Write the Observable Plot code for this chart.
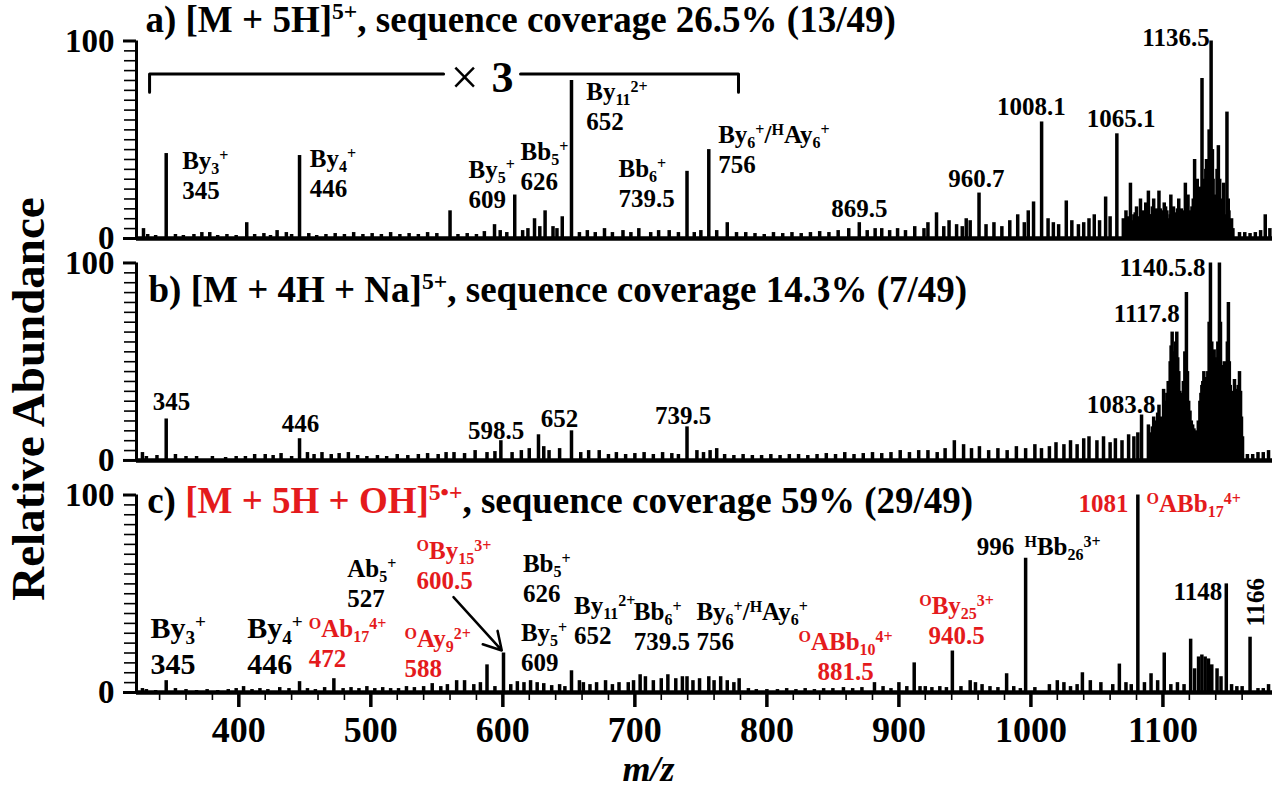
<!DOCTYPE html>
<html>
<head>
<meta charset="utf-8">
<script src="https://cdn.jsdelivr.net/npm/d3@7"></script>
<script src="https://cdn.jsdelivr.net/npm/@observablehq/plot@0.6"></script>
<style>
  html, body { margin: 0; padding: 0; background: #fff; }
  #chart { width: 1277px; height: 787px; }
</style>
</head>
<body>
<div id="chart"></div>
<script>
// Tandem mass spectra of three precursor ions, stacked on a shared m/z axis.

const RED = "#e41a1c";
const FONT = "'Liberation Serif', 'Times New Roman', Times, serif";

// ---- axes -------------------------------------------------------------
const mzDomain = [322.5, 1183];
const mzMajorTicks = [400, 500, 600, 700, 800, 900, 1000, 1100];
const mzMinorTicks = [340, 360, 380, 420, 440, 460, 480, 520, 540, 560, 580, 620, 640, 660, 680,
  720, 740, 760, 780, 820, 840, 860, 880, 920, 940, 960, 980, 1020, 1040, 1060, 1080, 1120, 1140, 1160];
const abundanceMajorTicks = [0, 100];
const abundanceMinorTicks = [5, 10, 15, 20, 25, 30, 35, 40, 45, 50, 55, 60, 65, 70, 75, 80, 85, 90, 95];

// ---- spectrum a) [M + 5H]5+ : [m/z, relative abundance] ----------------
const peaksA = [[327.8, 5], [345, 43], [372, 3], [406, 8], [429, 4], [446, 42], [560, 14], [593.7, 7],
  [609, 22], [624, 10], [632, 14], [645, 11], [652, 80], [677, 5], [739.5, 34], [756, 45], [770, 8],
  [870, 8], [887, 5], [928.5, 13], [943.7, 7], [954, 9], [960.7, 23], [1002, 18.5], [1008.1, 59],
  [1026.8, 19], [1056.6, 21], [1065.1, 53], [1075.4, 28], [1083, 20], [1089, 24], [1097, 24],
  [1106, 22], [1117, 28], [1124, 40], [1129.6, 81], [1136.5, 100], [1142, 47], [1148.5, 64], [1177.5, 12]];
const clusterA = [[1070, 10], [1071, 8], [1072, 14], [1073, 11], [1074, 9], [1076, 9], [1078, 12],
  [1079, 13], [1080, 16], [1081, 11], [1082, 10], [1084, 12], [1085, 14], [1086, 13], [1087, 18],
  [1088, 15], [1090, 12], [1091, 12], [1092, 16], [1093, 20], [1094, 14], [1095, 15], [1096, 12],
  [1098, 15], [1099, 12], [1100, 14], [1101, 18], [1102, 16], [1103, 14], [1104.5, 10], [1105.5, 12],
  [1107, 14], [1108, 16], [1109, 13], [1110, 12], [1111, 15], [1112, 20], [1113, 14], [1114, 15],
  [1115.5, 11], [1116.5, 14], [1118, 18], [1119, 22], [1120.5, 14], [1122, 16], [1123, 20], [1125, 24],
  [1126, 30], [1127.5, 20], [1128.5, 26], [1130.5, 30], [1131, 22], [1132.5, 35], [1133, 40], [1134, 28],
  [1135, 55], [1137.5, 45], [1138, 30], [1139.5, 22], [1140.8, 18], [1141, 35], [1143, 30], [1144, 20],
  [1145.5, 16], [1146, 28], [1147, 12], [1149.5, 20], [1150, 14], [1151.5, 8], [1152, 10], [1153, 5]];
const noiseA = [[331, 2], [337, 1.5], [352, 2], [358, 1.5], [366, 2], [378, 3], [384, 1.5], [391, 2],
  [398, 1.5], [412, 2], [419, 2.5], [424, 1.5], [436, 3], [440, 2], [453, 2.5], [459, 1.5], [466, 2],
  [473, 2.5], [480, 2], [487, 3], [494, 2], [501, 2.5], [508, 2], [515, 3], [522, 2], [529, 2.5], [536, 2],
  [543, 3], [550, 2.5], [566, 2], [573, 2.5], [580, 2], [586, 3.5], [598, 4], [603, 3], [615, 4], [619, 5],
  [628, 6], [638, 6], [641, 5], [658, 3], [664, 4], [670, 3], [683, 3], [691, 4], [697, 3], [703, 5],
  [712, 3], [718, 4], [726, 4], [733, 3], [745, 3], [750, 4], [762, 4], [777, 3], [784, 3], [791, 2.5],
  [798, 2], [805, 3], [812, 2.5], [819, 3], [826, 2.5], [833, 3], [840, 3.5], [847, 3], [854, 4], [862, 5],
  [876, 4], [882, 5], [893, 4], [899, 5], [905, 4], [912, 6], [919, 5], [922, 8], [934, 6], [938, 9],
  [948, 6], [951, 10], [966, 7], [972, 8], [978, 6], [984, 9], [990, 12], [995, 8], [998, 14], [1013, 10],
  [1017, 8], [1021, 7], [1031, 9], [1036, 7], [1040, 8], [1044, 10], [1048, 12], [1052, 9], [1060, 11],
  [1158, 3], [1162, 3], [1166, 2.5], [1170, 3], [1174, 4], [1181, 5]];

// ---- spectrum b) [M + 4H + Na]5+ ---------------------------------------
const peaksB = [[327, 4], [345, 21], [446, 11], [598.5, 10], [627, 13], [635, 5], [652, 15], [673, 5],
  [739.5, 17], [762, 6], [942, 10], [961, 7], [1044, 12], [1069, 10], [1083.8, 23]];
const clusterB = [[1089, 18], [1090, 12], [1091, 14], [1092, 17], [1093, 22], [1094, 20], [1095, 18],
  [1096, 24], [1097, 28], [1098, 20], [1099, 22], [1100.5, 36], [1101.2, 30], [1102, 28], [1103, 34],
  [1104, 40], [1105.5, 50], [1106.2, 58], [1107, 65], [1108.8, 55], [1109.6, 60], [1110.5, 65],
  [1111.2, 52], [1112, 45], [1112.8, 35], [1113.5, 28], [1114.5, 34], [1115.5, 40], [1116.6, 55],
  [1117.8, 85], [1118.6, 45], [1119.5, 30], [1120.5, 25], [1121.5, 20], [1122.5, 18], [1123.5, 16],
  [1124.5, 15], [1125.8, 14], [1126.8, 20], [1128, 30], [1128.8, 34], [1129.5, 38], [1130.2, 40],
  [1131, 45], [1132, 42], [1133, 40], [1134, 45], [1135, 70], [1136, 100], [1137, 60], [1137.5, 45],
  [1138.8, 56], [1139.6, 52], [1140.5, 50], [1141.6, 60], [1142.8, 100], [1143.6, 70], [1144.5, 48],
  [1145.5, 48], [1146.5, 50], [1147.3, 46], [1148, 45], [1148.8, 60], [1149.6, 80], [1150.3, 50],
  [1151, 38], [1151.8, 34], [1152.6, 30], [1153.4, 35], [1154.2, 41], [1155, 36], [1156, 30], [1157, 38],
  [1158, 45], [1158.8, 35], [1159.5, 22], [1160.3, 12]];
const noiseB = [[330, 2], [338, 2.5], [352, 3], [360, 2], [368, 2], [380, 2], [390, 1.5], [398, 2],
  [405, 2], [412, 3], [420, 3], [426, 2.5], [432, 3.5], [440, 2], [452, 4], [457, 3], [463, 4], [470, 3],
  [476, 3.5], [483, 4], [490, 2.5], [497, 2], [505, 2.5], [512, 2], [520, 3], [528, 2.5], [536, 3],
  [543, 3.5], [551, 3], [557, 4], [563, 4], [571, 3.5], [579, 5], [588, 4], [594, 4.5], [607, 4], [614, 5],
  [620, 6], [631, 7], [643, 6], [659, 4], [665, 5], [680, 3], [686, 4], [693, 3], [700, 3.5], [707, 4],
  [714, 3], [721, 4], [728, 3.5], [733, 3], [747, 5], [752, 4], [757, 5], [768, 3], [775, 2.5], [782, 3],
  [789, 2.5], [796, 2.5], [803, 3], [810, 2.5], [817, 3], [824, 3], [831, 2.5], [838, 3], [845, 3.5],
  [852, 3], [859, 4], [866, 3], [873, 3.5], [880, 4], [887, 3.5], [894, 4], [901, 5], [908, 4], [915, 5],
  [922, 5], [929, 4], [935, 6], [949, 8], [955, 6], [968, 5], [975, 6], [982, 5], [989, 7], [996, 6],
  [1003, 8], [1008, 6], [1014, 7], [1019, 9], [1025, 8], [1030, 10], [1035, 8], [1040, 11], [1050, 10],
  [1055, 12], [1060, 9], [1064, 11], [1074, 13], [1078, 12], [1081, 14], [1164, 3], [1168, 3], [1172, 4],
  [1176, 4], [1180, 5]];

// ---- spectrum c) [M + 5H + OH]5•+ --------------------------------------
const peaksC = [[327, 2], [345, 6], [403.6, 3], [446, 5.5], [472, 7], [546.5, 4.5], [565, 6], [571, 6],
  [588, 14], [600.5, 20], [611, 5.5], [621, 6], [626, 5], [652, 11], [661, 5], [677.8, 6], [695, 5],
  [704, 9], [739.5, 8], [756, 8], [881.5, 5], [900, 5], [911.6, 15], [920, 3], [940.5, 21], [954, 6],
  [963, 4], [981.6, 9.5], [996, 68], [1020, 6], [1039, 10], [1067, 14.4], [1081, 100], [1091, 9.5],
  [1101, 20], [1121, 27], [1127, 18], [1129.5, 19], [1132, 18], [1134.5, 17], [1137, 14], [1141, 12],
  [1148, 55], [1166, 28]];
const noiseC = [[330, 1.5], [337, 1], [352, 2], [360, 1.5], [368, 1], [376, 1.5], [384, 1], [392, 1.5],
  [398, 2], [410, 1.5], [416, 2], [422, 1.5], [431, 2.5], [438, 2], [452, 2], [458, 1.5], [465, 2.5],
  [479, 2], [485, 2.5], [491, 2], [497, 3], [503, 2], [509, 2.5], [515, 2], [521, 2], [527, 3], [533, 2.5],
  [540, 3], [553, 3], [558, 4], [578, 4], [583, 5], [594, 3], [606, 4], [616, 5], [631, 4.5], [637, 3.5],
  [643, 4], [647, 3], [658, 6], [666, 4], [671, 5], [683, 4], [688, 5], [699, 6], [708, 8], [714, 6],
  [720, 7], [725, 9], [731, 7], [736, 8], [744, 6], [749, 7], [760, 6], [765, 8], [770, 6], [775, 5],
  [779, 7], [786, 2], [792, 1.5], [800, 1.5], [808, 1.5], [815, 2], [822, 1.5], [829, 2], [836, 1.5],
  [843, 2], [850, 2], [858, 2.5], [865, 2], [872, 2.5], [888, 3], [894, 2], [906, 3], [916, 3], [925, 2.5],
  [931, 3], [936, 2.5], [947, 3], [958, 5], [969, 3], [975, 2.5], [987, 3], [992, 2], [1003, 2.5],
  [1014, 4], [1025, 5], [1030, 3], [1035, 4], [1045, 6], [1053, 5], [1062, 4], [1072, 5], [1076, 4],
  [1086, 5], [1096, 6], [1106, 4], [1111, 5], [1116, 4], [1124, 12], [1144, 8], [1152, 4], [1156, 3],
  [1160, 3], [1172, 2], [1176, 2], [1180, 4]];

// ---- panel titles and ion annotations (m/z, abundance within the panel) --
// Markup: _{..} subscript, ^{..} superscript, § toggles red (oxidized species).
const titles = [
  {panel: "a", mz: 329.3, at: 104.8, text: "a) [M + 5H]^{5+}, sequence coverage 26.5% (13/49)"},
  {panel: "b", mz: 331.6, at: 80.1, text: "b) [M + 4H + Na]^{5+}, sequence coverage 14.3% (7/49)"},
  {panel: "c", mz: 330.6, at: 91.1, text: "c) §[M + 5H + OH]^{5•+}§, sequence coverage 59% (29/49)"}
];
const labelsLeft = [
  {panel: "a", mz: 357.1, at: 20.2, text: "By_{3}^{+}\n345"},
  {panel: "a", mz: 453.8, at: 20.9, text: "By_{4}^{+}\n446"},
  {panel: "a", mz: 574, at: 15.2, text: "By_{5}^{+}\n609"},
  {panel: "a", mz: 613.4, at: 24.3, text: "Bb_{5}^{+}\n626"},
  {panel: "a", mz: 663.2, at: 54.7, text: "By_{11}^{2+}\n652"},
  {panel: "a", mz: 687.6, at: 15.7, text: "Bb_{6}^{+}\n739.5"},
  {panel: "a", mz: 763.1, at: 33.4, text: "By_{6}^{+}/^{H}Ay_{6}^{+}\n756"},
  {panel: "c", mz: 453, at: 12.8, text: "^{O}Ab_{17}^{4+}\n472", oxidized: true},
  {panel: "c", mz: 482.1, at: 43.2, text: "Ab_{5}^{+}\n527"},
  {panel: "c", mz: 534.6, at: 52.5, text: "^{O}By_{15}^{3+}\n600.5", oxidized: true},
  {panel: "c", mz: 525.5, at: 7.7, text: "^{O}Ay_{9}^{2+}\n588", oxidized: true},
  {panel: "c", mz: 615.2, at: 45.7, text: "Bb_{5}^{+}\n626"},
  {panel: "c", mz: 613.7, at: 11.1, text: "By_{5}^{+}\n609"},
  {panel: "c", mz: 653.9, at: 24.7, text: "By_{11}^{2+}\n652"},
  {panel: "c", mz: 699.2, at: 21.3, text: "Bb_{6}^{+}\n739.5"},
  {panel: "c", mz: 746.6, at: 21.3, text: "By_{6}^{+}/^{H}Ay_{6}^{+}\n756"},
  {panel: "c", mz: 995.1, at: 69.4, text: "^{H}Bb_{26}^{3+}"},
  {panel: "c", mz: 1087.6, at: 91.3, text: "^{O}ABb_{17}^{4+}", oxidized: true}
];
const labelsLarge = [
  {panel: "c", mz: 333.1, at: 9.5, text: "By_{3}^{+}\n345"},
  {panel: "c", mz: 406.4, at: 9.5, text: "By_{4}^{+}\n446"}
];
const labelsCentered = [
  {panel: "a", mz: 870, at: 10.8, text: "869.5"},
  {panel: "a", mz: 958.6, at: 25.9, text: "960.7"},
  {panel: "a", mz: 1000.4, at: 62.3, text: "1008.1"},
  {panel: "a", mz: 1068.4, at: 56.3, text: "1065.1"},
  {panel: "b", mz: 349, at: 25.3, text: "345"},
  {panel: "b", mz: 446.7, at: 14.3, text: "446"},
  {panel: "b", mz: 595, at: 11.1, text: "598.5"},
  {panel: "b", mz: 643, at: 16.8, text: "652"},
  {panel: "b", mz: 736.6, at: 18.7, text: "739.5"},
  {panel: "b", mz: 1068.4, at: 23.8, text: "1083.8"},
  {panel: "c", mz: 859.6, at: 6.1, text: "^{O}ABb_{10}^{4+}\n881.5", oxidized: true},
  {panel: "c", mz: 943.7, at: 24.7, text: "^{O}By_{25}^{3+}\n940.5", oxidized: true}
];
const labelsRight = [
  {panel: "a", mz: 1135.4, at: 97.7, text: "1136.5"},
  {panel: "b", mz: 1112.8, at: 70, text: "1117.8"},
  {panel: "b", mz: 1132.3, at: 93.6, text: "1140.5.8"},
  {panel: "c", mz: 987.3, at: 69.4, text: "996"},
  {panel: "c", mz: 1074, at: 91.3, text: "1081", oxidized: true},
  {panel: "c", mz: 1144.9, at: 46.6, text: "1148"}
];
const labelsVertical = [{panel: "c", mz: 1170.2, at: 45.7, text: "1166"}];

// "×3" zoom bracket over the low-m/z part of spectrum a
const bracketLeft = [[332.4, 74], [332.4, 83.3], [555.1, 83.3]];
const bracketRight = [[613.4, 83.3], [778.5, 83.3], [778.5, 74]];
const bracketTextAt = 81.5;
// arrow pointing at the 600.5 peak in spectrum c
const arrowC = [{mz1: 562.6, at1: 48.3, mz2: 599.2, at2: 21.3}];

// ---- layout: each spectrum sits on its own zero line of one y scale -----
const panels = ["a", "b", "c"];
const base = {a: 229.9, b: 117.5, c: 0};
const yTop = 350.4;

const sticks = [];
for (const [panel, list] of [["a", peaksA], ["a", clusterA], ["a", noiseA],
                             ["b", peaksB], ["b", clusterB], ["b", noiseB],
                             ["c", peaksC], ["c", noiseC]]) {
  for (const [mz, v] of list) sticks.push({panel, mz, v});
}

const yMajor = panels.flatMap(p => abundanceMajorTicks.map(t => base[p] + t));
const yMajorText = new Map(panels.flatMap(p => abundanceMajorTicks.map(t => [base[p] + t, String(t)])));
const yMinor = panels.flatMap(p => abundanceMinorTicks.map(t => base[p] + t));

const Y = d => base[d.panel] + d.at;
const ink = d => d.oxidized ? RED : "black";

const chart = Plot.plot({
  width: 1277,
  height: 787,
  marginLeft: 136,
  marginRight: 5,
  marginTop: 0,
  marginBottom: 95,
  x: {domain: mzDomain},
  y: {domain: [0, yTop]},
  color: {type: "identity"},
  style: {fontFamily: FONT, fontWeight: "bold", background: "white", color: "black", overflow: "visible"},
  marks: [
    // spectra
    Plot.ruleX(sticks, {x: "mz", y1: d => base[d.panel], y2: d => base[d.panel] + d.v, stroke: "black", strokeWidth: 3.5}),
    Plot.ruleY(panels, {y: p => base[p], stroke: "black", strokeWidth: 4.5}),
    // y axes, one per panel
    Plot.ruleX(panels, {x: mzDomain[0], y1: p => base[p], y2: p => base[p] + 100, stroke: "black", strokeWidth: 3}),
    Plot.axisY(yMinor, {anchor: "left", tickSize: 12, tickFormat: () => "", strokeWidth: 1.6, label: null}),
    Plot.axisY(yMajor, {anchor: "left", tickSize: 13, tickPadding: 9, tickFormat: v => yMajorText.get(v), fontSize: 33, strokeWidth: 3, label: null}),
    // shared m/z axis
    Plot.axisX(mzMajorTicks, {anchor: "bottom", tickSize: 15, tickPadding: 9, tickFormat: d => String(d), fontSize: 36, strokeWidth: 3.5, label: null}),
    Plot.axisX(mzMinorTicks, {anchor: "bottom", tickSize: 8, tickFormat: () => "", strokeWidth: 1.6, label: null}),
    Plot.text(["m/z"], {text: d => d, frameAnchor: "bottom", dx: -56, dy: 88, lineAnchor: "bottom", fontSize: 36, fontStyle: "italic"}),
    Plot.text(["Relative Abundance"], {text: d => d, frameAnchor: "left", textAnchor: "middle", rotate: -90, dx: -93, dy: 52.5, lineAnchor: "bottom", fontSize: 47}),
    // titles
    Plot.text(titles, {x: "mz", y: Y, text: "text", textAnchor: "start", lineAnchor: "bottom", fontSize: 37}),
    // ×3 bracket
    Plot.line(bracketLeft, {x: d => d[0], y: d => base.a + d[1], stroke: "black", strokeWidth: 3}),
    Plot.line(bracketRight, {x: d => d[0], y: d => base.a + d[1], stroke: "black", strokeWidth: 3}),
    Plot.text(["×"], {text: d => d, x: 571, y: base.a + bracketTextAt, fontSize: 50, fontWeight: "normal"}),
    Plot.text(["3"], {text: d => d, x: 599.8, y: base.a + bracketTextAt, fontSize: 44}),
    // ion annotations
    Plot.text(labelsLeft, {x: "mz", y: Y, text: "text", fill: ink, textAnchor: "start", lineAnchor: "bottom", lineHeight: 1.2, fontSize: 25}),
    Plot.text(labelsLarge, {x: "mz", y: Y, text: "text", fill: ink, textAnchor: "start", lineAnchor: "bottom", lineHeight: 1.2, fontSize: 30}),
    Plot.text(labelsCentered, {x: "mz", y: Y, text: "text", fill: ink, textAnchor: "middle", lineAnchor: "bottom", lineHeight: 1.2, fontSize: 25}),
    Plot.text(labelsRight, {x: "mz", y: Y, text: "text", fill: ink, textAnchor: "end", lineAnchor: "bottom", fontSize: 25}),
    Plot.text(labelsVertical, {x: "mz", y: Y, text: "text", fill: ink, rotate: -90, fontSize: 25}),
    Plot.arrow(arrowC, {x1: "mz1", y1: d => base.c + d.at1, x2: "mz2", y2: d => base.c + d.at2, stroke: "black", strokeWidth: 2.5, headLength: 12})
  ]
});

document.getElementById("chart").appendChild(chart);

// Turn the _{..} / ^{..} / § markup into sub-, superscript and red tspans.
function parseRich(s) {
  const out = [];
  let red = false, buf = "", i = 0;
  const flush = () => { if (buf) out.push({t: buf, kind: "n", red}); buf = ""; };
  while (i < s.length) {
    const c = s[i];
    if (c === "§") { flush(); red = !red; i++; continue; }
    if ((c === "_" || c === "^") && s[i + 1] === "{") {
      flush();
      const j = s.indexOf("}", i + 2);
      out.push({t: s.slice(i + 2, j), kind: c === "_" ? "sub" : "sup", red});
      i = j + 1;
      continue;
    }
    buf += c; i++;
  }
  flush();
  return out;
}

const SVGNS = "http://www.w3.org/2000/svg";
for (const node of Array.from(chart.querySelectorAll("text, tspan"))) {
  if (node.querySelector("tspan")) continue;
  const src = node.textContent;
  if (!/[_^]\{|§/.test(src)) continue;
  const fs = parseFloat(getComputedStyle(node).fontSize);
  node.textContent = "";
  for (const part of parseRich(src)) {
    const t = document.createElementNS(SVGNS, "tspan");
    t.textContent = part.t;
    if (part.red) t.setAttribute("fill", RED);
    if (part.kind !== "n") {
      t.style.fontSize = `${fs * 0.64}px`;
      t.style.baselineShift = `${part.kind === "sup" ? fs * 0.34 : -fs * 0.2}px`;
    }
    node.appendChild(t);
  }
}
</script>
</body>
</html>
